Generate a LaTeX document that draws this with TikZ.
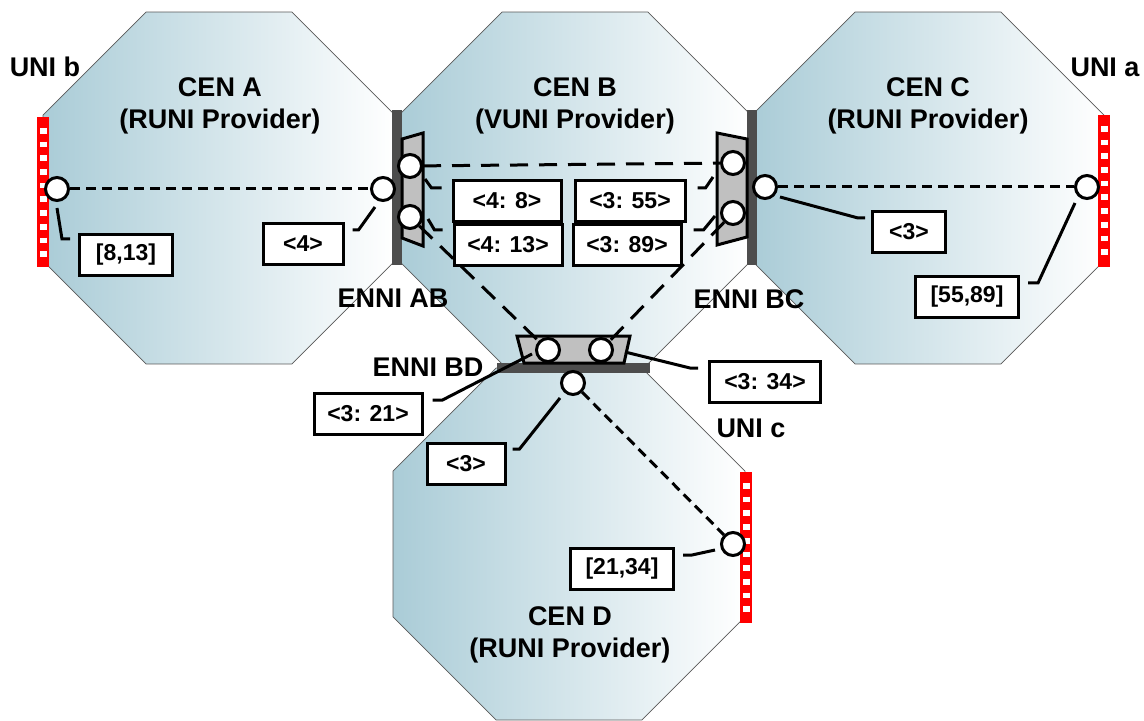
\documentclass[tikz,border=0pt]{standalone}
\usepackage{fontspec}
\setmainfont{Liberation Sans}
\usetikzlibrary{shapes.geometric,calc}
\definecolor{cenblue}{RGB}{170,204,215}
\definecolor{ennigray}{RGB}{77,77,77}
\definecolor{gategray}{RGB}{192,192,192}
\newcommand{\ttlfont}{\fontsize{13.5}{16}\selectfont\bfseries}
\newcommand{\tagfont}{\fontsize{11.5}{13}\selectfont\bfseries}

\begin{document}
\begin{tikzpicture}[x=0.5pt,y=-0.5pt,
  cen/.style={regular polygon,regular polygon sides=8,minimum size=190.5pt,inner sep=0pt,draw=black!65,line width=0.4pt,left color=cenblue,right color=white},
  ttl/.style={font=\ttlfont,align=center,inner sep=0pt},
  port/.style={circle,draw,fill=white,line width=1.5pt,minimum size=11.5pt,inner sep=0pt},
  tag/.style={draw,fill=white,line width=1.5pt,font=\tagfont,minimum height=20.5pt,minimum width=54pt,inner sep=1pt},
  gate/.style={draw,fill=gategray,line width=1.5pt},
  enni/.style={fill=ennigray},
  unibar/.style={draw=red,line width=6.3pt},
  unisq/.style={draw=white,line width=3.5pt,dash pattern=on 2.85pt off 4pt},
  svc/.style={line width=1.5pt,dash pattern=on 5pt off 3pt},
  vsvc/.style={line width=1.5pt,dash pattern=on 9pt off 5.5pt},
  lead/.style={line width=1.5pt}]
\useasboundingbox (0,0) rectangle (1144,721);
% networks
\node[cen] (cenA) at (219,188) {};
\node[cen] (cenB) at (575,188) {};
\node[cen] (cenC) at (928,188) {};
\node[cen] (cenD) at (569,544) {};
\node[ttl] (lA) at (220,106) {CEN A\\(RUNI Provider)};
\node[ttl] (lB) at (575,106) {CEN B\\(VUNI Provider)};
\node[ttl] (lC) at (928,106) {CEN C\\(RUNI Provider)};
\node[ttl] (lD) at (570,635) {CEN D\\(RUNI Provider)};
% ENNIs and UNIs
\fill[enni] (392,110) rectangle (402,265);
\fill[enni] (747,110) rectangle (757,265);
\fill[enni] (497,363) rectangle (650,373);
\draw[gate] (402,139) -- (423,133) -- (423,246) -- (402,238) -- cycle;
\draw[gate] (717,133) -- (747,139) -- (747,237) -- (717,245) -- cycle;
\draw[gate] (517,336) -- (630,336) -- (624,363) -- (524,363) -- cycle;
\draw[unibar] (43,117) -- (43,267);
\draw[unisq] (43,128) -- (43,262);
\draw[unibar] (1104,115) -- (1104,267);
\draw[unisq] (1104,126) -- (1104,262);
\draw[unibar] (746,472) -- (746,623);
\draw[unisq] (746,483) -- (746,618);
\node[ttl,anchor=base] (lUb) at (45,77) {UNI b};
\node[ttl,anchor=base] (lUa) at (1105,77) {UNI a};
\node[ttl,anchor=base] (lUc) at (751,437) {UNI c};
\node[ttl,anchor=base] (lAB) at (393,307) {ENNI AB};
\node[ttl,anchor=base] (lBC) at (749,308) {ENNI BC};
\node[ttl,anchor=base] (lBD) at (428,376) {ENNI BD};
% endpoints
\node[port] (uniB) at (57,189) {};
\node[port] (eAB) at (383,189) {};
\node[port] (gAB1) at (410,166) {};
\node[port] (gAB2) at (410,217) {};
\node[port] (gBC1) at (733,163) {};
\node[port] (gBC2) at (733,213) {};
\node[port] (eBC) at (765,187) {};
\node[port] (uniA) at (1087,187) {};
\node[port] (gBD1) at (548,350) {};
\node[port] (gBD2) at (601,350) {};
\node[port] (eBD) at (573,383) {};
\node[port] (uniC) at (733,544) {};
\draw[svc] (uniB) -- (eAB);
\draw[svc] (eBC) -- (uniA);
\draw[svc] (eBD) -- (uniC);
\draw[vsvc] (gAB1) -- (gBC1);
\draw[vsvc] (gAB2) -- (gBD1);
\draw[vsvc] (gBC2) -- (gBD2);
% maps
\node[tag,minimum width=46.5pt] (t813) at (126,255) {[8,13]};
\node[tag,minimum width=40pt] (t4) at (303,244) {<4>};
\node[tag] (t48) at (507,201) {<4: 8>};
\node[tag] (t413) at (508,245) {<4: 13>};
\node[tag,minimum width=55pt] (t355) at (630,201) {<3: 55>};
\node[tag] (t389) at (627,245) {<3: 89>};
\node[tag,minimum width=36.5pt] (t3C) at (909,232) {<3>};
\node[tag,minimum width=51.5pt] (t5589) at (967,297) {[55,89]};
\node[tag,minimum width=55.5pt] (t334) at (765,382) {<3: 34>};
\node[tag] (t321) at (368,414) {<3: 21>};
\node[tag,minimum width=39pt] (t3D) at (466,464) {<3>};
\node[tag,minimum width=51.5pt] (t2134) at (622,569) {[21,34]};
\draw[lead] ($(uniB)+(0,19)$) -- ($(t813.west)+(-16,-16)$) -- ($(t813.west)+(-8,-16)$);
\draw[lead] ($(eAB)+(-8,18)$) -- ($(t4.east)+(14,-14)$) -- ($(t4.east)+(8,-14)$);
\draw[lead] ($(gAB1)+(15,13)$) -- ($(t48.west)+(-20,-13)$) -- ($(t48.west)+(-10,-13)$);
\draw[lead] ($(gAB2)+(18,2)$) -- ($(t413.west)+(-18,-15)$) -- ($(t413.west)+(-10,-15)$);
\draw[lead] ($(gBC1)+(-20,14)$) -- ($(t355.east)+(19,-13)$) -- ($(t355.east)+(11,-13)$);
\draw[lead] ($(gBC2)+(-18,3)$) -- ($(t389.east)+(21,-15)$) -- ($(t389.east)+(11,-15)$);
\draw[lead] ($(eBC)+(15,10)$) -- ($(t3C.west)+(-13,-14)$) -- ($(t3C.west)+(-6,-14)$);
\draw[lead] ($(uniA)+(-12,16)$) -- ($(t5589.east)+(18,-14)$) -- ($(t5589.east)+(8,-14)$);
\draw[lead] ($(gBD1)+(-16,4)$) -- ($(t321.east)+(19,-14)$) -- ($(t321.east)+(9,-14)$);
\draw[lead] ($(gBD2)+(24,2)$) -- ($(t334.west)+(-18,-14)$) -- ($(t334.west)+(-10,-14)$);
\draw[lead] ($(eBD)+(-13,15)$) -- ($(t3D.east)+(13,-15)$) -- ($(t3D.east)+(6,-15)$);
\draw[lead] ($(uniC)+(-18,6)$) -- ($(t2134.east)+(17,-14)$) -- ($(t2134.east)+(8,-14)$);
\end{tikzpicture}
\end{document}
